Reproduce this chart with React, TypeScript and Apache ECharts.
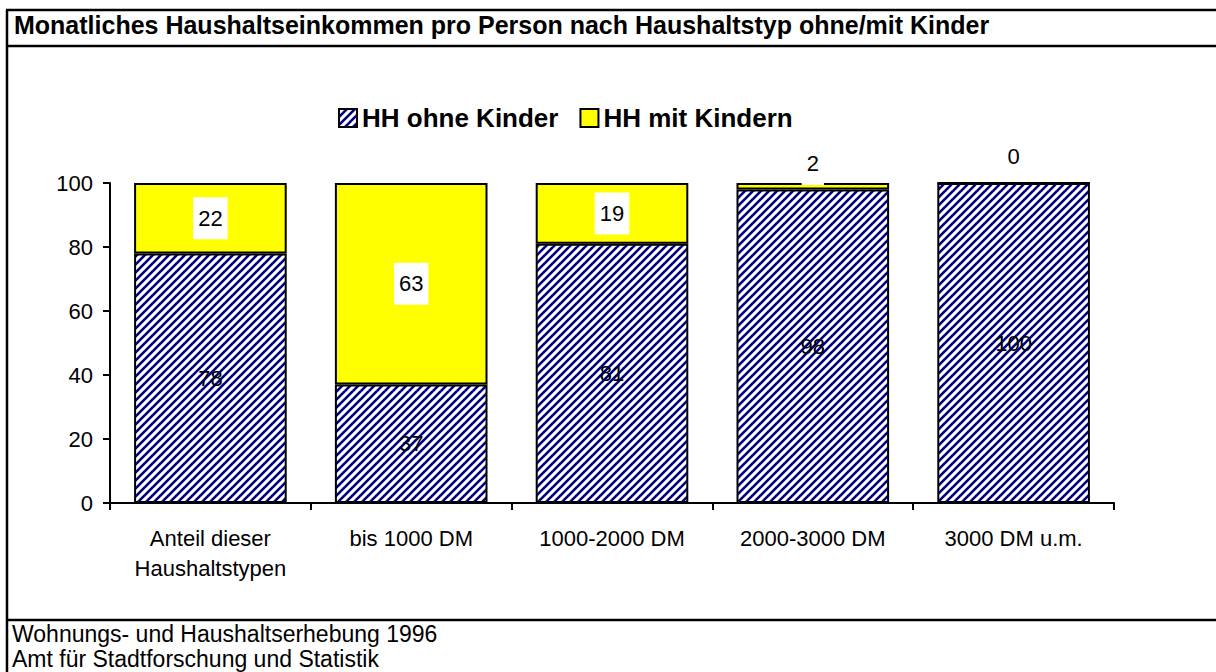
import React, { useEffect, useRef } from 'react';
import * as echarts from 'echarts';

const titleText = 'Monatliches Haushaltseinkommen pro Person nach Haushaltstyp ohne/mit Kinder';
const footerLines = ['Wohnungs- und Haushaltserhebung 1996', 'Amt für Stadtforschung und Statistik'];
const categories = ['Anteil dieser\nHaushaltstypen', 'bis 1000 DM', '1000-2000 DM', '2000-3000 DM', '3000 DM u.m.'];
const seriesNames = ['HH ohne Kinder', 'HH mit Kindern'];
const ohneKinder = [78, 37, 81, 98, 100];
const mitKindern = [22, 63, 19, 2, 0];
const yMin = 0;
const yMax = 100;
const yInterval = 20;

const FONT = '"Liberation Sans", Arial, Helvetica, sans-serif';

function makeHatch(): string {
  const c = document.createElement('canvas');
  c.width = 8;
  c.height = 8;
  const ctx = c.getContext('2d')!;
  ctx.fillStyle = '#ffffff';
  ctx.fillRect(0, 0, 8, 8);
  ctx.strokeStyle = '#000080';
  ctx.lineWidth = 2.6;
  for (const k of [-8, 0, 8]) {
    ctx.beginPath();
    ctx.moveTo(k - 1, 9);
    ctx.lineTo(k + 9, -1);
    ctx.stroke();
  }
  return c.toDataURL();
}

export default function App() {
  const ref = useRef<HTMLDivElement>(null);
  useEffect(() => {
    if (!ref.current) return;
    const chart = echarts.init(ref.current, null, { renderer: 'svg' });
    const hatch = { image: makeHatch(), repeat: 'repeat', imageWidth: 8, imageHeight: 8 } as any;
    const frame = { stroke: '#000', lineWidth: 2.5 };
    chart.setOption({
      animation: false,
      backgroundColor: '#fff',
      textStyle: { fontFamily: FONT },
      legend: {
        data: seriesNames,
        left: 338,
        top: 105,
        padding: 0,
        itemGap: 21,
        icon: 'rect',
        itemWidth: 18,
        itemHeight: 18,
        textStyle: { fontSize: 26, fontWeight: 'bold', color: '#000', fontFamily: FONT },
      },
      grid: { left: 110, right: 102, top: 183, bottom: 169 },
      xAxis: {
        type: 'category',
        data: categories,
        axisLine: { lineStyle: { color: '#000', width: 2 } },
        axisTick: { show: true, length: 7, alignWithLabel: false, lineStyle: { color: '#000', width: 2 } },
        axisLabel: { interval: 0, fontSize: 22, lineHeight: 30, margin: 20, color: '#000', fontFamily: FONT },
      },
      yAxis: {
        type: 'value',
        min: yMin,
        max: yMax,
        interval: yInterval,
        axisLine: { show: true, lineStyle: { color: '#000', width: 2 } },
        axisTick: { show: true, length: 7, lineStyle: { color: '#000', width: 2 } },
        splitLine: { show: false },
        axisLabel: { fontSize: 22, margin: 17, color: '#000', fontFamily: FONT },
      },
      series: [
        {
          name: seriesNames[0],
          type: 'bar',
          stack: 'total',
          barWidth: '76%',
          data: ohneKinder,
          itemStyle: { color: hatch, borderColor: '#000', borderWidth: 2 },
          label: { show: true, position: 'inside', fontSize: 22, color: '#000', fontFamily: FONT },
        },
        {
          name: seriesNames[1],
          type: 'bar',
          stack: 'total',
          barWidth: '76%',
          data: mitKindern.map((v) =>
            v < 5
              ? { value: v, label: { position: 'top', distance: v === 0 ? 4 : -2 } }
              : v
          ),
          itemStyle: { color: '#ffff00', borderColor: '#000', borderWidth: 2 },
          label: {
            show: true,
            position: 'inside',
            fontSize: 22,
            color: '#000',
            fontFamily: FONT,
            backgroundColor: '#fff',
            padding: [9, 5, 11, 5],
          },
        },
      ],
      graphic: [
        { type: 'line', shape: { x1: 7, y1: 10, x2: 7, y2: 672 }, style: frame },
        { type: 'line', shape: { x1: 6, y1: 10, x2: 1216, y2: 10 }, style: frame },
        { type: 'line', shape: { x1: 6, y1: 46, x2: 1216, y2: 46 }, style: frame },
        { type: 'line', shape: { x1: 6, y1: 620, x2: 1216, y2: 620 }, style: frame },
        {
          type: 'text',
          x: 14,
          y: 25,
          style: { text: titleText, font: `bold 25px ${FONT}`, fill: '#000', textVerticalAlign: 'middle' },
        },
        {
          type: 'text',
          x: 12,
          y: 634,
          style: { text: footerLines[0], font: `23px ${FONT}`, fill: '#000', textVerticalAlign: 'middle' },
        },
        {
          type: 'text',
          x: 12,
          y: 659,
          style: { text: footerLines[1], font: `23px ${FONT}`, fill: '#000', textVerticalAlign: 'middle' },
        },
      ],
    });
    return () => chart.dispose();
  }, []);
  return (
    <div
      ref={ref}
      style={{ position: 'fixed', left: 0, top: 0, width: 1216, height: 672, background: '#fff' }}
    />
  );
}
